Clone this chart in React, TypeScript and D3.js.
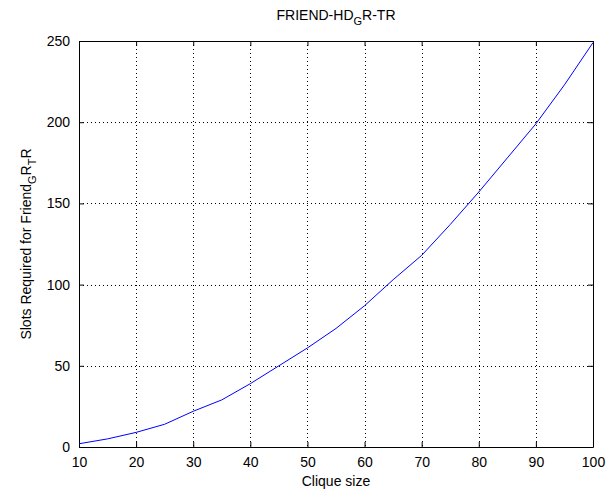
import * as React from 'react';
import * as d3 from 'd3';

const cliqueSizes = [10, 15, 20, 25, 30, 35, 40, 45, 50, 55, 60, 65, 70, 75, 80, 85, 90, 95, 100];
const slotsRequired = [2, 5, 9, 14, 22, 29, 39, 50, 61, 73, 87, 103, 118, 137, 157, 178, 199, 223, 249];
const xTicks = [10, 20, 30, 40, 50, 60, 70, 80, 90, 100];
const yTicks = [0, 50, 100, 150, 200, 250];

const W = 607;
const H = 497;
const margin = { top: 41, right: 14, bottom: 50, left: 79 };
const FONT = 'Liberation Sans, Arial, sans-serif';

export default function App() {
  const ref = React.useRef<SVGSVGElement>(null);

  React.useEffect(() => {
    const svg = d3.select(ref.current);
    svg.selectAll('*').remove();
    const width = W - margin.left - margin.right;
    const height = H - margin.top - margin.bottom;

    const x = d3.scaleLinear().domain([10, 100]).range([0, width]);
    const y = d3.scaleLinear().domain([0, 250]).range([height, 0]);

    svg.append('rect').attr('width', W).attr('height', H).attr('fill', '#fff');

    const g = svg.append('g').attr('transform', `translate(${margin.left},${margin.top})`);

    // dotted grid
    g.selectAll('.gx')
      .data(xTicks.slice(1, -1))
      .enter()
      .append('line')
      .attr('x1', d => Math.round(x(d)) + 0.5)
      .attr('x2', d => Math.round(x(d)) + 0.5)
      .attr('y1', 0)
      .attr('y2', height)
      .attr('stroke', '#000')
      .attr('stroke-dasharray', '1,3');
    g.selectAll('.gy')
      .data(yTicks.slice(1, -1))
      .enter()
      .append('line')
      .attr('y1', d => Math.round(y(d)) + 0.5)
      .attr('y2', d => Math.round(y(d)) + 0.5)
      .attr('x1', 0)
      .attr('x2', width)
      .attr('stroke', '#000')
      .attr('stroke-dasharray', '1,3');

    // axes (ticks inside, box on)
    const tl = 5;
    const fmt = (d: any) => `${d}`;
    g.append('g')
      .attr('transform', `translate(0,${height})`)
      .call(d3.axisBottom(x).tickValues(xTicks).tickSizeInner(-tl).tickSizeOuter(0).tickPadding(10).tickFormat(fmt));
    g.append('g')
      .call(d3.axisTop(x).tickValues(xTicks).tickSizeInner(-tl).tickSizeOuter(0).tickFormat(() => ''));
    g.append('g')
      .call(d3.axisLeft(y).tickValues(yTicks).tickSizeInner(-tl).tickSizeOuter(0).tickPadding(9).tickFormat(fmt));
    g.append('g')
      .attr('transform', `translate(${width},0)`)
      .call(d3.axisRight(y).tickValues(yTicks).tickSizeInner(-tl).tickSizeOuter(0).tickFormat(() => ''));

    g.selectAll('.domain').attr('stroke', '#000');
    g.selectAll('.tick line').attr('stroke', '#000');
    g.selectAll('.tick text')
      .attr('font-family', FONT)
      .attr('font-size', 14)
      .attr('fill', '#000');

    // curve
    const line = d3.line<number>()
      .x((d, i) => x(cliqueSizes[i]))
      .y(d => y(d));
    g.append('path')
      .datum(slotsRequired)
      .attr('d', line)
      .attr('fill', 'none')
      .attr('stroke', '#0000ff')
      .attr('stroke-width', 1);

    // title
    const title = svg.append('text')
      .attr('x', margin.left + width / 2)
      .attr('y', 20)
      .attr('text-anchor', 'middle')
      .attr('font-family', FONT)
      .attr('font-size', 14)
      .attr('fill', '#000');
    title.append('tspan').text('FRIEND-HD');
    title.append('tspan').attr('dy', 5).attr('font-size', 11).text('G');
    title.append('tspan').attr('dy', -5).text('R-TR');

    // x label
    svg.append('text')
      .attr('x', margin.left + width / 2)
      .attr('y', 486)
      .attr('text-anchor', 'middle')
      .attr('font-family', FONT)
      .attr('font-size', 14)
      .attr('fill', '#000')
      .text('Clique size');

    // y label
    const yl = svg.append('text')
      .attr('transform', `translate(31,${margin.top + height / 2}) rotate(-90)`)
      .attr('text-anchor', 'middle')
      .attr('font-family', FONT)
      .attr('font-size', 14)
      .attr('fill', '#000');
    yl.append('tspan').text('Slots Required for Friend');
    yl.append('tspan').attr('dy', 5).attr('font-size', 11).text('G');
    yl.append('tspan').attr('dy', -5).text('R');
    yl.append('tspan').attr('dy', 5).attr('font-size', 11).text('T');
    yl.append('tspan').attr('dy', -5).text('R');
  }, []);

  return (
    <svg
      ref={ref}
      width={W}
      height={H}
      style={{ position: 'absolute', left: 0, top: 0 }}
    />
  );
}
